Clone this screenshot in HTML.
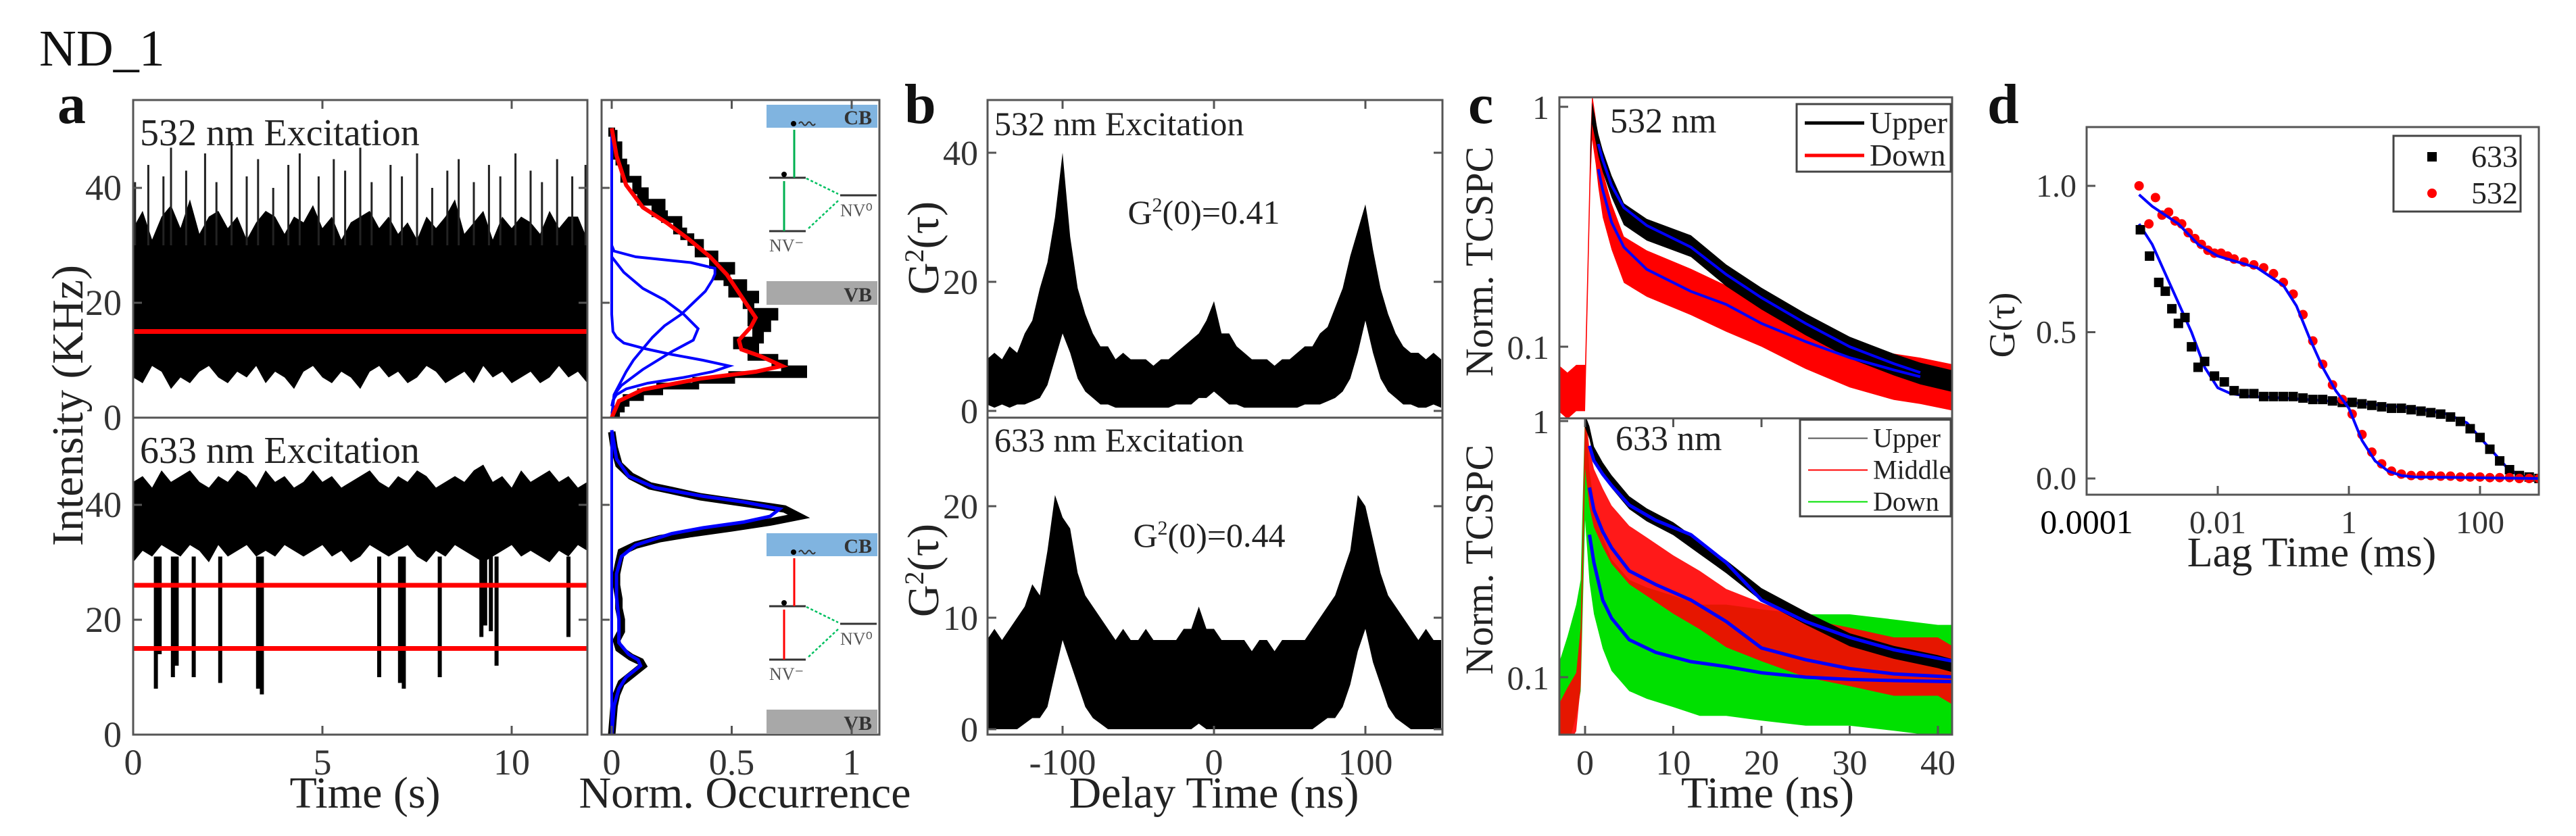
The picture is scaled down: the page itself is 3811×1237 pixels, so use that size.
<!DOCTYPE html>
<html><head><meta charset="utf-8"><style>
html,body{margin:0;padding:0;background:#fff;}
svg{display:block;font-family:"Liberation Serif",serif;}
svg text{font-family:"Liberation Serif",serif;}
</style></head><body>
<svg id="fig" width="3811" height="1237" viewBox="0 0 3811 1237" xmlns="http://www.w3.org/2000/svg" font-family="Liberation Serif, serif">
<defs>
<clipPath id="cA1"><rect x="197" y="148" width="672" height="470"/></clipPath>
<clipPath id="cA2"><rect x="197" y="618" width="672" height="469"/></clipPath>
<clipPath id="cH1"><rect x="890" y="148" width="411" height="470"/></clipPath>
<clipPath id="cH2"><rect x="890" y="618" width="411" height="469"/></clipPath>
<clipPath id="cB1"><rect x="1461" y="148" width="673" height="470"/></clipPath>
<clipPath id="cB2"><rect x="1461" y="618" width="673" height="469"/></clipPath>
<clipPath id="cC1"><rect x="2307" y="144" width="581" height="475"/></clipPath>
<clipPath id="cC2"><rect x="2307" y="619" width="581" height="468"/></clipPath>
<clipPath id="cD"><rect x="3087" y="188" width="669" height="544"/></clipPath>
</defs>
<text x="58" y="97" font-size="76" fill="#111">ND_1</text>
<text x="85" y="182" font-size="84" font-weight="bold" fill="#111">a</text>
<text x="1338" y="182" font-size="84" font-weight="bold" fill="#111">b</text>
<text x="2172" y="182" font-size="84" font-weight="bold" fill="#111">c</text>
<text x="2940" y="182" font-size="84" font-weight="bold" fill="#111">d</text>
<g id="layer"></g>
<g font-size="56" fill="#222">
<text x="207" y="215">532 nm Excitation</text>
<text x="207" y="685">633 nm Excitation</text>
<text x="1471" y="200" font-size="50">532 nm Excitation</text>
<text x="1471" y="668" font-size="50">633 nm Excitation</text>
<text x="1781" y="331" font-size="50" text-anchor="middle">G<tspan dy="-18" font-size="30">2</tspan><tspan dy="18">(0)=0.41</tspan></text>
<text x="1789" y="809" font-size="50" text-anchor="middle">G<tspan dy="-18" font-size="30">2</tspan><tspan dy="18">(0)=0.44</tspan></text>
<text x="2382" y="196" font-size="52">532 nm</text>
<text x="2390" y="666" font-size="52">633 nm</text>
</g>
<g font-size="66" fill="#222" text-anchor="middle">
<text x="540" y="1195">Time (s)</text>
<text x="1102" y="1195">Norm. Occurrence</text>
<text x="1796" y="1195">Delay Time (ns)</text>
<text x="2615" y="1195">Time (ns)</text>
<text x="3420" y="838" font-size="62">Lag Time (ms)</text>
<text transform="translate(122,600) rotate(-90)">Intensity (KHz)</text>
<text transform="translate(1388,367) rotate(-90)">G<tspan dy="-22" font-size="40">2</tspan><tspan dy="22">(τ)</tspan></text>
<text transform="translate(1388,844) rotate(-90)">G<tspan dy="-22" font-size="40">2</tspan><tspan dy="22">(τ)</tspan></text>
<text transform="translate(2208,387) rotate(-90)" font-size="58">Norm. TCSPC</text>
<text transform="translate(2208,828) rotate(-90)" font-size="58">Norm. TCSPC</text>
<text transform="translate(2980,481) rotate(-90)" font-size="54">G(τ)</text>
</g>
</svg>
<script>
// ---------- Panel a: intensity traces ----------
const aTopT = [0,0.25,0.5,0.75,1,1.25,1.5,1.75,2,2.25,2.5,2.75,3,3.25,3.5,3.75,4,4.25,4.5,4.75,5,5.25,5.5,5.75,6,6.25,6.5,6.75,7,7.25,7.5,7.75,8,8.25,8.5,8.75,9,9.25,9.5,9.75,10,10.25,10.5,10.75,11,11.25,11.5,11.75,12];
const aTopHi = [33,36,31,35,37,33,38,32,35,36,33,35,31,34,36,35,32,35,34,37,33,35,31,34,35,36,33,35,32,34,31,35,33,35,38,32,34,36,31,35,33,35,34,32,36,33,35,35,31];
const aTopLo = [7,6,9,8,5,7,6,8,9,7,6,8,7,9,6,8,7,5,8,9,7,6,8,7,5,8,9,7,8,6,7,9,8,6,7,8,6,9,7,8,6,7,8,6,7,9,7,8,6];
const spikeT = [0.05,0.4,0.8,1.0,1.4,1.9,2.2,2.6,3.0,3.3,3.7,4.1,4.4,4.9,5.3,5.6,6.0,6.3,6.8,7.1,7.5,7.9,8.3,8.6,9.0,9.4,9.7,10.1,10.5,10.8,11.2,11.6,11.95];
const spikeV = [41,44,42,47,43,46,41,48,42,45,40,44,46,42,45,43,47,41,44,42,46,40,43,45,41,44,42,46,43,41,45,42,44];
const aRedTop = [15];
const aBotT = aTopT;
const aBotHi = [44,45,43,46,44,45,46,44,43,45,44,46,45,43,46,44,45,43,44,46,44,45,43,44,45,46,44,43,45,44,46,45,43,44,45,44,46,47,44,45,43,46,44,45,46,44,45,43,44];
const aBotLo = [30,32,31,33,32,31,33,32,30,33,31,32,33,31,32,31,33,32,31,32,33,31,32,30,31,33,32,31,32,33,31,30,32,31,33,32,31,30,31,32,33,31,32,31,30,32,31,33,32];
const dipT = [0.6,0.7,1.05,1.15,1.6,2.3,3.3,3.4,6.5,7.05,7.15,8.1,9.2,9.3,9.45,9.6,11.5];
const dipMin = [8,14,10,12,10,9,8,7,10,9,8,10,17,19,18,12,17];
const aRedBot = [26,15];
// ---------- Panel a: histograms ----------
const hist1X = [0.01,0.02,0.04,0.06,0.12,0.2,0.35,0.5,0.8,0.72,0.68,0.58,0.6,0.52,0.62,0.6,0.65,0.58,0.68,0.58,0.56,0.6,0.5,0.55,0.48,0.44,0.5,0.42,0.43,0.36,0.37,0.33,0.3,0.27,0.28,0.22,0.18,0.21,0.12,0.14,0.1,0.11,0.05,0.06,0.05,0.03,0.02,0.03,0.01,0.01,0];
const redFitI = [0,2.9,4.9,6.8,8,9,10.7,11.9,13.5,15.8,17.4,20.5,24.9,28,31.1,33.9,36.6,40.5,45.6,50.4];
const redFitX = [0,0.03,0.13,0.37,0.6,0.71,0.62,0.54,0.53,0.58,0.6,0.55,0.48,0.41,0.32,0.23,0.13,0.06,0.02,0];
const g1I = [2,3,4,5,6,7,8,9,10,11,12,13,14,15,18,30,50];
const g1X = [0,0.005,0.02,0.06,0.15,0.3,0.42,0.49,0.38,0.25,0.14,0.05,0.02,0.005,0,0,0];
const g2I = [0,4,5.6,8.4,11.5,13.5,15.5,18,20.5,22.5,25.3,28,50];
const g2X = [0,0.01,0.04,0.13,0.25,0.34,0.36,0.3,0.22,0.13,0.05,0,0];
const g3I = [0,4,6,8,10,12,14,16,18,20,22,24,25,26,27,28,29,30,50];
const g3X = [0,0.01,0.035,0.06,0.09,0.13,0.17,0.22,0.29,0.34,0.39,0.42,0.43,0.43,0.33,0.1,0.01,0,0];
const h2I = [0,5,7,9,10,11,12,12.7,13.5,15,16.4,18,20,22,23.6,26,28,30,31.8,33,34.1,35,36,37,38,39.3,40.5,41.4,42.5,43.3,45,47,50,52.7];
const h2X = [0,0.01,0.02,0.04,0.07,0.1,0.13,0.12,0.08,0.03,0.02,0.04,0.04,0.03,0.03,0.02,0.02,0.03,0.04,0.1,0.2,0.33,0.5,0.66,0.78,0.72,0.52,0.37,0.25,0.16,0.08,0.03,0.01,0];
const fit2I = [0,5,8,10,11,12,13,14,16,18,20,24,28,31,33,35,36,37,38,39.3,40.5,41.5,43,45,48,53];
const fit2X = [0,0.01,0.03,0.06,0.09,0.12,0.11,0.07,0.03,0.03,0.03,0.02,0.02,0.04,0.1,0.25,0.38,0.55,0.66,0.7,0.55,0.38,0.18,0.07,0.02,0];
// ---------- Panel b: g2 envelopes ----------
const tauB = [-150,-145,-140,-135,-130,-125,-120,-115,-110,-105,-100,-95,-90,-85,-80,-75,-70,-65,-60,-55,-50,-45,-40,-35,-30,-25,-20,-15,-10,-5,0,5,10,15,20,25,30,35,40,45,50,55,60,65,70,75,80,85,90,95,100,105,110,115,120,125,130,135,140,145,150];
const bTopHi = [8,9,8,10,9,12,14,19,23,30,40,27,19,15,12,10,10,8,9,8,8,8,7,8,8,9,10,11,12,14,17,12,12,10,9,8,8,8,7,8,8,9,10,10,12,13,16,19,24,28,32,25,19,15,12,10,9,9,8,9,8];
const bTopLo = [1,0.5,1,0.5,1,1,1.5,2,4,8,12,9,5,3,2,1,1,0.5,0.5,0.5,0.5,0.5,0.5,0.5,0.5,1,1,1,2,2,3,2,1,1,0.5,0.5,0.5,0.5,0.5,0.5,0.5,0.5,1,1,1,1.5,2,3,5,9,14,9,5,3,2,1,1,0.5,0.5,1,0.5];
const bBotHi = [8,9,8,9,10,11,13,12,16,21,19,18,14,12,11,10,9,8,9,8,8,9,8,8,8,8,9,9,11,9,9,8,8,8,8,7,8,8,7,8,8,8,8,9,10,11,12,14,16,21,20,17,14,12,11,10,9,8,9,8,8];
const bBotLo = [0,0,0,0,0,0.5,1,1,2,5,8,6,4,2,1,0.5,0,0,0,0,0,0,0,0,0,0,0,0,0.5,0,0,0,0,0,0,0,0,0,0,0,0,0,0,0,0.5,1,1,2,4,7,9,6,4,2,1,0.5,0,0,0,0,0];
// ---------- Panel c: TCSPC ----------
const c1RedT = [-3,-2,-1,-0.5,0,0.3,0.6,0.8,1.2,1.5,2,3,4.4,7,12,16,20,25,30,35,38,42];
const c1RedV = [0.07,0.065,0.07,0.07,0.07,0.2,0.6,0.95,0.75,0.6,0.45,0.33,0.24,0.21,0.176,0.15,0.13,0.105,0.088,0.078,0.075,0.07];
const c1BlackT = [0.6,0.8,1.2,1.5,2,3,4.4,7,12,16,20,25,30,35,38,42];
const c1BlackV = [0.6,0.95,0.8,0.7,0.6,0.47,0.36,0.31,0.265,0.2,0.16,0.125,0.1,0.085,0.078,0.072];
const c1FitT = [1.5,2,3,4.4,7,12,16,20,25,30,35,38];
const c1FitBlack = [0.7,0.6,0.47,0.38,0.32,0.26,0.2,0.16,0.125,0.1,0.085,0.078];
const c1FitRed = [0.55,0.45,0.33,0.26,0.21,0.17,0.15,0.125,0.105,0.09,0.08,0.075];
const c2UpT = [0,0.5,1,2,3,5,7,10,13,16,20,25,30,35,40,42];
const c2UpV = [1,0.9,0.75,0.65,0.58,0.48,0.43,0.38,0.32,0.27,0.21,0.17,0.14,0.125,0.115,0.11];
const c2T = [-3,-2,-1,-0.5,0,0.5,1,2,3,5,7,10,13,16,20,25,30,35,40,42];
const c2MidV = [0.06,0.07,0.08,0.12,0.85,0.6,0.5,0.42,0.36,0.3,0.27,0.23,0.2,0.17,0.15,0.13,0.12,0.11,0.11,0.1];
const c2DownV = [0.07,0.09,0.12,0.15,0.7,0.4,0.3,0.22,0.18,0.15,0.14,0.13,0.12,0.12,0.115,0.11,0.11,0.105,0.1,0.1];
const c2FitT = [0.5,1,2,3,5,8,12,16,20,25,30,35,42];
const c2FitUp = [0.8,0.7,0.62,0.56,0.47,0.41,0.36,0.28,0.2,0.165,0.143,0.128,0.115];
const c2FitMid = [0.55,0.45,0.37,0.32,0.26,0.23,0.2,0.165,0.13,0.117,0.108,0.103,0.1];
const c2FitDown = [0.36,0.28,0.2,0.17,0.14,0.125,0.115,0.11,0.104,0.1,0.098,0.097,0.096];
// ---------- Panel d: FCS ----------
const d633L = [-3.18,-3.04,-2.9,-2.8,-2.7,-2.6,-2.5,-2.4,-2.3,-2.2,-2.05,-1.9,-1.75,-1.6,-1.45,-1.3,-1.15,-1,-0.85,-0.7,-0.55,-0.4,-0.25,-0.1,0.05,0.2,0.35,0.5,0.65,0.8,0.95,1.1,1.25,1.4,1.55,1.7,1.85,2,2.15,2.3,2.45,2.6,2.75,2.9];
const d633G = [0.85,0.76,0.67,0.64,0.58,0.53,0.55,0.45,0.38,0.4,0.35,0.33,0.3,0.29,0.29,0.28,0.28,0.28,0.28,0.275,0.27,0.27,0.265,0.26,0.26,0.255,0.25,0.245,0.24,0.24,0.235,0.23,0.225,0.22,0.21,0.195,0.17,0.14,0.1,0.06,0.03,0.01,0.005,0];
const d532L = [-3.2,-3.05,-2.95,-2.85,-2.75,-2.65,-2.55,-2.45,-2.35,-2.25,-2.15,-2.05,-1.95,-1.85,-1.75,-1.6,-1.45,-1.3,-1.15,-1,-0.85,-0.7,-0.55,-0.4,-0.25,-0.1,0.05,0.2,0.35,0.5,0.65,0.8,0.95,1.1,1.25,1.4,1.55,1.7,1.85,2,2.15,2.3,2.45,2.6,2.75,2.9];
const d532G = [1.0,0.87,0.96,0.9,0.91,0.88,0.87,0.84,0.82,0.8,0.78,0.77,0.77,0.76,0.75,0.74,0.73,0.72,0.7,0.67,0.63,0.56,0.47,0.39,0.32,0.27,0.22,0.15,0.09,0.05,0.025,0.015,0.01,0.01,0.01,0.008,0.008,0.005,0.005,0.005,0.003,0.003,0.003,0,0,0];
const fit633L = [-3.2,-3,-2.8,-2.6,-2.4,-2.2,-2,-1.8,-1.5,-1,0,0.5,1,1.5,1.8,2,2.2,2.4,2.6,2.9];
const fit633G = [0.87,0.8,0.7,0.6,0.5,0.38,0.31,0.29,0.28,0.275,0.26,0.25,0.24,0.22,0.19,0.14,0.09,0.04,0.01,0];
const fit532L = [-3.2,-3,-2.6,-2.3,-2,-1.7,-1.4,-1.2,-1,-0.8,-0.6,-0.4,-0.2,0,0.2,0.4,0.6,0.8,1,2.9];
const fit532G = [0.97,0.93,0.87,0.8,0.76,0.74,0.72,0.69,0.66,0.59,0.48,0.38,0.3,0.24,0.13,0.06,0.025,0.01,0.005,0];
// tick labels
const aYTicks = [0,20,40];
const aXTicks = [0,5,10];
const hXTicks = [0,0.5,1];
const bYTicksTop = [0,20,40];
const bYTicksBot = [0,10,20];
const bXTicks = [-100,0,100];
const cXTicks = [0,10,20,30,40];
const cYTicks = [1,0.1];
const dYTicks = [0,0.5,1.0];
const dXTicks = [-4,-2,0,2];
const dXTickLabels = ['0.0001','0.01','1','100'];

// ---------- scales ----------
const ax = t => 197 + t*56;
const ay1 = v => 618 - v*8.5;
const ay2 = v => 1087 - v*8.5;
const hx = v => 905 + v*355;
const bx = t => 1796 + t*2.24;
const by1 = v => 608 - v*9.55;
const by2 = v => 1079 - v*16.5;
const cx = t => 2345 + t*13.05;
const cy1 = v => 158 - Math.log10(v)*355;
const cy2 = v => 623 - Math.log10(v)*379;
const dx = L => 3087 + (L+4)*97;
const dy = g => 708 - g*433;

const NS = 'http://www.w3.org/2000/svg';
const root = document.getElementById('layer');
function add(tag, attrs, parent) {
  const e = document.createElementNS(NS, tag);
  for (const k in attrs) e.setAttribute(k, attrs[k]);
  (parent || root).appendChild(e);
  return e;
}
function grp(clip) { return add('g', clip ? {'clip-path': 'url(#' + clip + ')'} : {}); }
function pts(xs, ys, fx, fy) { return xs.map((x, i) => fx(x).toFixed(1) + ',' + fy(ys[i]).toFixed(1)).join(' '); }
function bandPts(xs, hi, lo, fx, fy) {
  const a = xs.map((x, i) => fx(x).toFixed(1) + ',' + fy(hi[i]).toFixed(1));
  const b = xs.map((x, i) => fx(x).toFixed(1) + ',' + fy(lo[i]).toFixed(1)).reverse();
  return a.concat(b).join(' ');
}

// ===== Panel a top trace =====
let g = grp('cA1');
let el = add('polygon', {points: bandPts(aTopT, aTopHi, aTopLo, ax, ay1), fill: '#000'}, g);


spikeT.forEach((t, i) => {
  const l = add('line', {x1: ax(t), x2: ax(t), y1: ay1(spikeV[i]), y2: ay1(30), stroke: '#222', 'stroke-width': 3}, g);
  
  
});
aRedTop.forEach(v => {
  const l = add('line', {x1: 197, x2: 869, y1: ay1(v), y2: ay1(v), stroke: '#f00', 'stroke-width': 7}, g);
  
  
});
// ===== Panel a bottom trace =====
g = grp('cA2');
el = add('polygon', {points: bandPts(aBotT, aBotHi, aBotLo, ax, ay2), fill: '#000'}, g);


dipT.forEach((t, i) => {
  const l = add('line', {x1: ax(t), x2: ax(t), y1: ay2(dipMin[i]), y2: ay2(31), stroke: '#000', 'stroke-width': 6}, g);
  
  
});
aRedBot.forEach(v => {
  const l = add('line', {x1: 197, x2: 869, y1: ay2(v), y2: ay2(v), stroke: '#f00', 'stroke-width': 7}, g);
  
  
});

// ===== Histograms =====
g = grp('cH1');
let stepPts = [];
hist1X.forEach((v, i) => { stepPts.push(hx(v).toFixed(1) + ',' + ay1(i - 0.5).toFixed(1)); stepPts.push(hx(v).toFixed(1) + ',' + ay1(i + 0.5).toFixed(1)); });
el = add('polyline', {points: stepPts.join(' '), fill: 'none', stroke: '#000', 'stroke-width': 10}, g);


[[g1I, g1X], [g2I, g2X], [g3I, g3X]].forEach(([I, X]) => {
  const l = add('polyline', {points: pts(X, I, hx, ay1), fill: 'none', stroke: '#0000ff', 'stroke-width': 4}, g);
  
  
});
el = add('polyline', {points: pts(redFitX, redFitI, hx, ay1), fill: 'none', stroke: '#f00', 'stroke-width': 6}, g);



g = grp('cH2');
el = add('polyline', {points: pts(h2X, h2I, hx, ay2), fill: 'none', stroke: '#000', 'stroke-width': 11}, g);


el = add('line', {x1: hx(0), x2: hx(0), y1: ay2(0), y2: ay2(53), stroke: '#0000ff', 'stroke-width': 4}, g);


el = add('polyline', {points: pts(fit2X, fit2I, hx, ay2), fill: 'none', stroke: '#0000ff', 'stroke-width': 5}, g);



// ===== Energy diagrams (insets) =====
[[0, '#00b050', '532'], [634, '#ff0000', '633']].forEach(([o, ac, nm]) => {
  const ig = add('g', {});
  
  
  add('rect', {x: 1134, y: 155 + o, width: 164, height: 34, fill: '#80b4e0'}, ig);
  add('rect', {x: 1134, y: 416 + o, width: 164, height: 35, fill: '#a8a8a8'}, ig);
  const t1 = add('text', {x: 1290, y: 184 + o, 'font-size': 30, 'text-anchor': 'end', fill: '#333', 'font-weight': 'bold'}, ig); t1.textContent = 'CB';
  const t2 = add('text', {x: 1290, y: 446 + o, 'font-size': 30, 'text-anchor': 'end', fill: '#333', 'font-weight': 'bold'}, ig); t2.textContent = 'VB';
  add('line', {x1: 1138, x2: 1192, y1: 263 + o, y2: 263 + o, stroke: '#333', 'stroke-width': 3}, ig);
  add('line', {x1: 1138, x2: 1192, y1: 342 + o, y2: 342 + o, stroke: '#333', 'stroke-width': 3}, ig);
  add('line', {x1: 1243, x2: 1297, y1: 289 + o, y2: 289 + o, stroke: '#333', 'stroke-width': 3}, ig);
  add('line', {x1: 1160, x2: 1160, y1: 342 + o, y2: 268 + o, stroke: ac, 'stroke-width': 3}, ig);
  add('line', {x1: 1175, x2: 1175, y1: 263 + o, y2: 192 + o, stroke: ac, 'stroke-width': 3}, ig);
  add('line', {x1: 1193, x2: 1240, y1: 264 + o, y2: 287 + o, stroke: '#00c060', 'stroke-width': 2.5, 'stroke-dasharray': '4 3'}, ig);
  add('line', {x1: 1240, x2: 1196, y1: 297 + o, y2: 338 + o, stroke: '#00c060', 'stroke-width': 2.5, 'stroke-dasharray': '4 3'}, ig);
  add('circle', {cx: 1160, cy: 258 + o, r: 4, fill: '#000'}, ig);
  add('circle', {cx: 1174, cy: 183 + o, r: 4, fill: '#000'}, ig);
  add('path', {d: 'M1182 ' + (183 + o) + ' q3 -5 6 0 t6 0 t6 0 t6 0', fill: 'none', stroke: '#333', 'stroke-width': 2}, ig);
  const t3 = add('text', {x: 1243, y: 320 + o, 'font-size': 26, fill: '#555'}, ig); t3.textContent = 'NV⁰';
  const t4 = add('text', {x: 1138, y: 372 + o, 'font-size': 26, fill: '#555'}, ig); t4.textContent = 'NV⁻';
});

// ===== Panel b =====
g = grp('cB1');
el = add('polygon', {points: bandPts(tauB, bTopHi, bTopLo, bx, by1), fill: '#000'}, g);


g = grp('cB2');
el = add('polygon', {points: bandPts(tauB, bBotHi, bBotLo, bx, by2), fill: '#000'}, g);



// ===== Panel c =====
function logBand(T, V, up, dn, fy) {
  return bandPts(T, V.map(v => v * up), V.map(v => v / dn), cx, fy);
}
g = grp('cC1');
el = add('polygon', {points: logBand(c1RedT, c1RedV, 1.2, 1.3, cy1), fill: '#f00'}, g);


el = add('polygon', {points: logBand(c1BlackT, c1BlackV, 1.1, 1.12, cy1), fill: '#000'}, g);


el = add('polyline', {points: pts(c1FitT, c1FitBlack, cx, cy1), fill: 'none', stroke: '#0000ff', 'stroke-width': 4}, g);


el = add('polyline', {points: pts(c1FitT, c1FitRed, cx, cy1), fill: 'none', stroke: '#0000ff', 'stroke-width': 4}, g);



g = grp('cC2');
el = add('polygon', {points: logBand(c2T, c2DownV, 1.6, 1.7, cy2), fill: '#00e000'}, g);


el = add('polygon', {points: logBand(c2T, c2MidV, 1.3, 1.3, cy2), fill: '#f00', 'fill-opacity': 0.9}, g);


el = add('polygon', {points: logBand(c2UpT, c2UpV, 1.06, 1.06, cy2), fill: '#000'}, g);


[[c2FitUp, 'upper'], [c2FitMid, 'middle'], [c2FitDown, 'down']].forEach(([V, n]) => {
  const l = add('polyline', {points: pts(c2FitT, V, cx, cy2), fill: 'none', stroke: '#0000ff', 'stroke-width': 5}, g);
  
  
});

// ===== Panel d =====
g = grp('cD');
el = add('polyline', {points: pts(fit633L, fit633G, dx, dy), fill: 'none', stroke: '#0000ff', 'stroke-width': 4}, g);


d633L.forEach((L, i) => {
  const s = add('rect', {x: dx(L) - 7, y: dy(d633G[i]) - 7, width: 14, height: 14, fill: '#000'}, g);
  
  
});
d532L.forEach((L, i) => {
  const c = add('circle', {cx: dx(L), cy: dy(d532G[i]), r: 7, fill: '#f00'}, g);
  
  
});
el = add('polyline', {points: pts(fit532L, fit532G, dx, dy), fill: 'none', stroke: '#0000ff', 'stroke-width': 4}, g);



// ===== Frames & ticks =====
function frame(x, y, w, h, name) {
  const r = add('rect', {x: x, y: y, width: w, height: h, fill: 'none', stroke: '#555', 'stroke-width': 3});
  
  
}
frame(197, 148, 672, 470, 'frame-a-top'); frame(197, 618, 672, 469, 'frame-a-bottom');
frame(890, 148, 411, 470, 'frame-hist-top'); frame(890, 618, 411, 469, 'frame-hist-bottom');
frame(1461, 148, 673, 470, 'frame-b-top'); frame(1461, 618, 673, 469, 'frame-b-bottom');
frame(2307, 144, 581, 475, 'frame-c-top'); frame(2307, 619, 581, 468, 'frame-c-bottom');
frame(3087, 188, 669, 544, 'frame-d');

function tickLabel(x, y, txt, anchor, size, name, color) {
  const t = add('text', {x: x, y: y, 'text-anchor': anchor, 'font-size': size || 52, fill: color || '#333', 'font-family': 'Liberation Serif, serif'});
  t.textContent = txt;
  
  
}
function tick(x1, y1, x2, y2) { add('line', {x1: x1, y1: y1, x2: x2, y2: y2, stroke: '#555', 'stroke-width': 3}); }
aYTicks.forEach(v => {
  tickLabel(180, ay1(v) + 18, String(v), 'end', 54, 'y-tick-a-top');
  tickLabel(180, ay2(v) + 18, String(v), 'end', 54, 'y-tick-a-bottom');
  tick(197, ay1(v), 210, ay1(v)); tick(869, ay1(v), 856, ay1(v));
  tick(197, ay2(v), 210, ay2(v)); tick(869, ay2(v), 856, ay2(v));
  tick(890, ay1(v), 902, ay1(v)); tick(890, ay2(v), 902, ay2(v));
});
aXTicks.forEach(v => { tickLabel(ax(v), 1146, String(v), 'middle', 54, 'x-tick-a'); tick(ax(v), 1087, ax(v), 1074); tick(ax(v), 148, ax(v), 161); });
hXTicks.forEach(v => { tickLabel(hx(v), 1146, String(v), 'middle', 54, 'x-tick-hist'); tick(hx(v), 1087, hx(v), 1074); tick(hx(v), 148, hx(v), 161); });
bYTicksTop.forEach(v => { tickLabel(1447, by1(v) + 18, String(v), 'end', 52, 'y-tick-b-top'); tick(1461, by1(v), 1474, by1(v)); tick(2134, by1(v), 2121, by1(v)); });
bYTicksBot.forEach(v => { tickLabel(1447, by2(v) + 18, String(v), 'end', 52, 'y-tick-b-bottom'); tick(1461, by2(v), 1474, by2(v)); tick(2134, by2(v), 2121, by2(v)); });
bXTicks.forEach(v => { tickLabel(bx(v), 1146, String(v), 'middle', 54, 'x-tick-b'); tick(bx(v), 1087, bx(v), 1074); tick(bx(v), 148, bx(v), 161); });
cXTicks.forEach(v => { tickLabel(cx(v), 1146, String(v), 'middle', 52, 'x-tick-c'); tick(cx(v), 1087, cx(v), 1074); tick(cx(v), 619, cx(v), 632); });
cYTicks.forEach(v => {
  tickLabel(2292, cy1(v) + 18, String(v), 'end', 50, 'y-tick-c-top');
  tickLabel(2292, cy2(v) + 18, String(v), 'end', 50, 'y-tick-c-bottom');
  tick(2307, cy1(v), 2320, cy1(v)); tick(2307, cy2(v), 2320, cy2(v));
});
dYTicks.forEach(v => { tickLabel(3072, dy(v) + 16, v.toFixed(1), 'end', 48, 'y-tick-d'); tick(3087, dy(v), 3100, dy(v)); });
dXTicks.forEach((L, i) => {
  tickLabel(dx(L), 789, dXTickLabels[i], 'middle', i === 0 ? 50 : 48, 'x-tick-d', i === 0 ? '#000' : '#333');
  tick(dx(L), 732, dx(L), 719);
});

// ===== Legends =====
function legend(x, y, w, h, items, lw, fs, rowH, name) {
  const lg = add('g', {});
  
  
  add('rect', {x: x, y: y, width: w, height: h, fill: '#fff', stroke: '#444', 'stroke-width': 3}, lg);
  items.forEach((it, i) => {
    const cyy = y + rowH * (i + 0.5) + 4;
    if (it.type === 'line') add('line', {x1: x + 12, x2: x + 100, y1: cyy, y2: cyy, stroke: it.color, 'stroke-width': lw}, lg);
    else if (it.type === 'sq') add('rect', {x: x + 50, y: cyy - 7, width: 14, height: 14, fill: it.color}, lg);
    else add('circle', {cx: x + 57, cy: cyy, r: 7, fill: it.color}, lg);
    const t = add('text', {x: x + (it.type === 'line' ? 108 : 115), y: cyy + fs * 0.33, 'font-size': fs, fill: '#222', 'font-family': 'Liberation Serif, serif'}, lg);
    t.textContent = it.label;
  });
}
legend(2658, 154, 228, 100, [{type: 'line', color: '#000', label: 'Upper'}, {type: 'line', color: '#f00', label: 'Down'}], 5, 46, 48, 'legend-c-top');
legend(2663, 621, 223, 143, [{type: 'line', color: '#555', label: 'Upper'}, {type: 'line', color: '#f00', label: 'Middle'}, {type: 'line', color: '#00e000', label: 'Down'}], 2, 40, 47, 'legend-c-bottom');
legend(3541, 201, 188, 112, [{type: 'sq', color: '#000', label: '633'}, {type: 'circle', color: '#f00', label: '532'}], 2, 46, 54, 'legend-d');
</script>
</body></html>
